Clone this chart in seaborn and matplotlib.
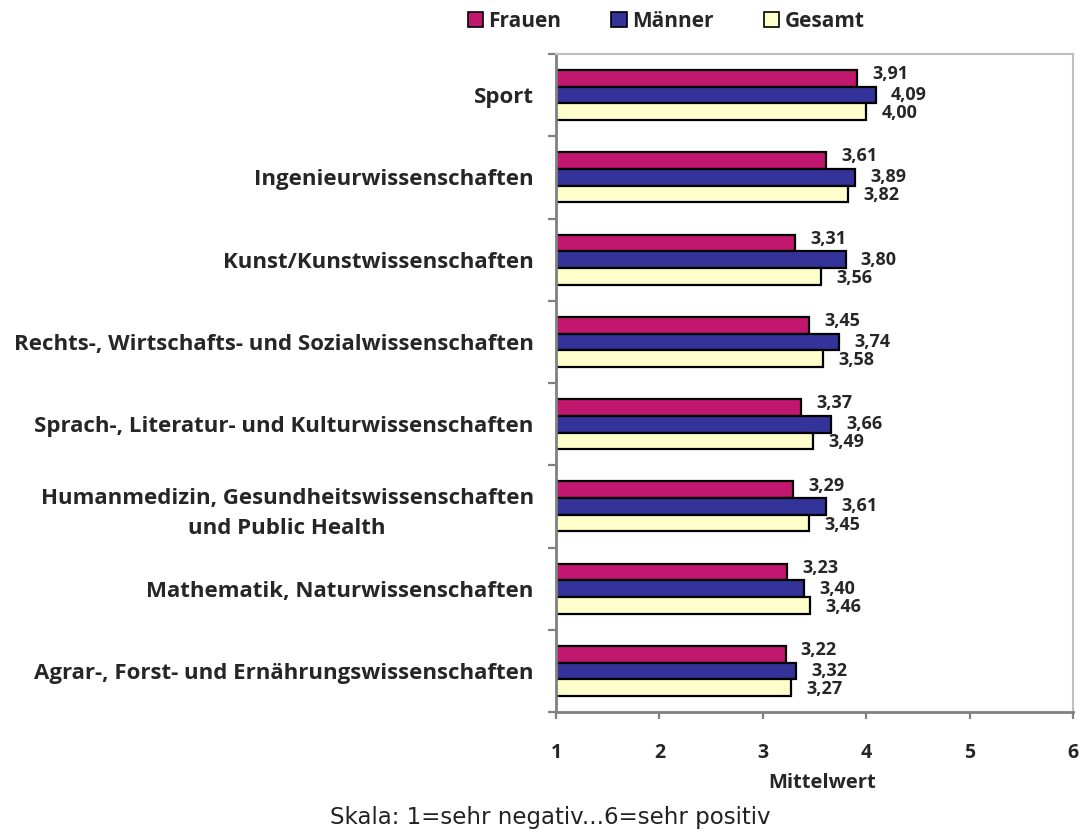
import matplotlib
matplotlib.use("Agg")
import matplotlib.pyplot as plt
import seaborn as sns
import pandas as pd
import numpy as np
from matplotlib.patches import Patch

categories = [
    "Sport",
    "Ingenieurwissenschaften",
    "Kunst/Kunstwissenschaften",
    "Rechts-, Wirtschafts- und Sozialwissenschaften",
    "Sprach-, Literatur- und Kulturwissenschaften",
    "Humanmedizin, Gesundheitswissenschaften\nund Public Health",
    "Mathematik, Naturwissenschaften",
    "Agrar-, Forst- und Ernährungswissenschaften",
]
frauen = [3.91, 3.61, 3.31, 3.45, 3.37, 3.29, 3.23, 3.22]
maenner = [4.09, 3.89, 3.80, 3.74, 3.66, 3.61, 3.40, 3.32]
gesamt = [4.00, 3.82, 3.56, 3.58, 3.49, 3.45, 3.46, 3.27]
series_names = ["Frauen", "Männer", "Gesamt"]
xticks = [1, 2, 3, 4, 5, 6]

colors = ["#C2176F", "#333399", "#FFFFCC"]

rows = []
for name, vals in zip(series_names, [frauen, maenner, gesamt]):
    for c, v in zip(categories, vals):
        rows.append({"Kategorie": c, "Serie": name, "Wert": v})
df = pd.DataFrame(rows)

sns.set_theme(style="white")
plt.rcParams["font.family"] = ["Open Sans", "DejaVu Sans"]

fig = plt.figure(figsize=(10.83, 8.32), dpi=100)
ax = fig.add_axes([0.5134, 0.1442, 0.9908 - 0.5134, 0.9351 - 0.1442])

sns.barplot(data=df, y="Kategorie", x="Wert", hue="Serie", order=categories,
            hue_order=series_names, palette=colors, orient="h", width=0.61,
            edgecolor="black", linewidth=1.6, saturation=1, legend=False, ax=ax)

ax.set_xlim(1, 6)
ax.set_ylim(len(categories) - 0.5, -0.5)
ax.set_xticks(xticks)
ax.set_xticklabels([str(t) for t in xticks], fontsize=14, fontweight="bold")
ax.tick_params(axis="x", direction="out", length=5, width=1.6, color="#808080",
               pad=17, bottom=True)
ax.set_xlabel("Mittelwert", fontsize=14.5, fontweight="bold")
ax.xaxis.set_label_coords(0.514, -0.093)
ax.set_ylabel("")

ax.set_yticks(range(len(categories)))
ax.set_yticklabels(categories, fontsize=16, fontweight="bold",
                   multialignment="center")
for lbl in ax.get_yticklabels():
    lbl.set_linespacing(1.55)
ax.tick_params(axis="y", which="major", length=0, pad=16, left=True)
ax.set_yticks(np.arange(-0.5, len(categories) + 0.5, 1), minor=True)
ax.tick_params(axis="y", which="minor", direction="out", length=6, width=1.6,
               color="#808080", left=True)

for side in ["left", "bottom"]:
    ax.spines[side].set_color("#808080")
    ax.spines[side].set_linewidth(2)
for side in ["top", "right"]:
    ax.spines[side].set_color("#BFBFBF")
    ax.spines[side].set_linewidth(1.5)
ax.grid(False)

dys = [3, 0, -1]
for cont, dy in zip(ax.containers, dys):
    for bar in cont:
        w = bar.get_width()
        yc = bar.get_y() + bar.get_height() / 2
        ax.annotate(f"{w:.2f}".replace(".", ","), xy=(w, yc),
                    xytext=(11, dy), textcoords="offset points",
                    ha="left", va="center", fontsize=13, fontweight="bold")

handles = [Patch(facecolor=c, edgecolor="black", linewidth=1.2) for c in colors]
fig.legend(handles, series_names, loc="center", bbox_to_anchor=(0.615, 0.974),
           ncol=3, frameon=False, prop={"weight": "bold", "size": 15},
           handlelength=0.75, handleheight=0.75, handletextpad=0.25,
           columnspacing=2.4)

fig.text(0.508, 0.018, "Skala: 1=sehr negativ...6=sehr positiv",
         family="DejaVu Sans", fontsize=16.5,
         ha="center", va="center", color="#222222")

fig.savefig("out.png", dpi=100)
